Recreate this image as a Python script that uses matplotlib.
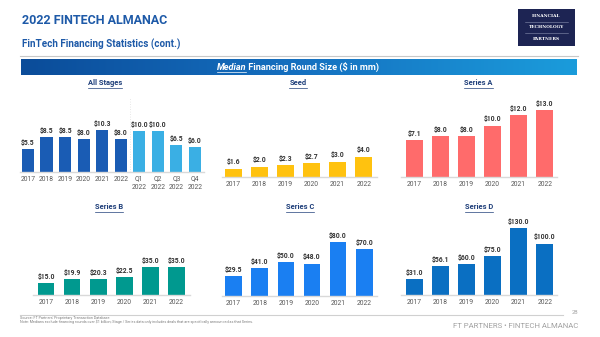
import matplotlib
matplotlib.use("Agg")
import matplotlib.pyplot as plt
import numpy as np
from matplotlib.lines import Line2D
from matplotlib.colors import LinearSegmentedColormap

# ---------------- data ----------------
all_labels = ['2017', '2018', '2019', '2020', '2021', '2022',
              'Q1\n2022', 'Q2\n2022', 'Q3\n2022', 'Q4\n2022']
all_values = [5.5, 8.5, 8.5, 8.0, 10.3, 8.0, 10.0, 10.0, 6.5, 6.0]
years = ['2017', '2018', '2019', '2020', '2021', '2022']
seed_values = [1.6, 2.0, 2.3, 2.7, 3.0, 4.0]
series_a_values = [7.1, 8.0, 8.0, 10.0, 12.0, 13.0]
series_b_values = [15.0, 19.9, 20.3, 22.5, 35.0, 35.0]
series_c_values = [29.5, 41.0, 50.0, 48.0, 80.0, 70.0]
series_d_values = [31.0, 56.1, 60.0, 75.0, 130.0, 100.0]

W, H = 600, 337
plt.rcParams['font.family'] = ['Roboto', 'DejaVu Sans']
fig = plt.figure(figsize=(6, 3.37), dpi=100)
fig.patch.set_facecolor('white')
renderer = fig.canvas.get_renderer()

NAVY = '#1F3F7A'
TITLE_BLUE = '#1E5AA8'


def px_axes(x0, y0, x1, y1):
    return fig.add_axes([x0 / W, 1 - y1 / H, (x1 - x0) / W, (y1 - y0) / H])


def ftext(x, y, s, **kw):
    return fig.text(x / W, 1 - y / H, s, **kw)


def underline(t, color, lw=0.6, gap=1.0):
    bb = t.get_window_extent(renderer=renderer)
    y = bb.y0 - gap
    fig.add_artist(Line2D([bb.x0 / W, bb.x1 / W], [y / H, y / H],
                          transform=fig.transFigure, color=color, lw=lw))


# ---------------- header ----------------
ftext(22, 20, '2022 FINTECH ALMANAC', fontsize=9.0, fontweight='bold',
      color=TITLE_BLUE, va='center', ha='left')
ftext(22, 44, 'FinTech Financing Statistics (cont.)', fontsize=7.1,
      fontweight='bold', color=TITLE_BLUE, va='center', ha='left')

# logo
lax = px_axes(518, 9, 575, 46)
lax.set_xlim(0, 1); lax.set_ylim(0, 1)
lax.set_facecolor('#1D2453')
for s in lax.spines.values():
    s.set_visible(False)
lax.set_xticks([]); lax.set_yticks([])
for yy, word in [(0.80, 'FINANCIAL'), (0.50, 'TECHNOLOGY'), (0.20, 'PARTNERS')]:
    lax.text(0.5, yy, word, color='white', fontsize=3.2, ha='center',
             va='center', family=['DejaVu Serif'], fontweight='bold')
for yy in [0.65, 0.35]:
    lax.plot([0.12, 0.88], [yy, yy], color='#8A90B0', lw=0.4)

# gray rule
fig.add_artist(Line2D([20 / W, 578 / W], [1 - 55.5 / H, 1 - 55.5 / H],
                      transform=fig.transFigure, color='#C8C8C8', lw=0.8))

# banner gradient
bax = px_axes(21, 59, 577, 75)
grad = np.linspace(0, 1, 256).reshape(1, -1)
cmap = LinearSegmentedColormap.from_list('b', ['#0B4C99', '#1570C0', '#1B9CDB'])
bax.imshow(grad, aspect='auto', cmap=cmap, extent=[0, 1, 0, 1])
bax.set_axis_off()

t1 = ftext(0, 67, 'Median', fontsize=6.6, fontweight='bold', style='italic',
           color='white', va='center', ha='left')
t2 = ftext(0, 67, ' Financing Round Size ($ in mm)', fontsize=6.6,
           fontweight='bold', color='white', va='center', ha='left')
w1 = t1.get_window_extent(renderer=renderer).width
w2 = t2.get_window_extent(renderer=renderer).width
start = 298 - (w1 + w2) / 2
t1.set_x(start / W)
t2.set_x((start + w1) / W)
underline(t1, 'white', lw=0.5, gap=0.5)


# ---------------- panels ----------------
def panel(title, tx, ty, x0, x1, baseline, top, c0, spacing, ppu,
          labels, values, colors, bw_px=16.7, tick_pad=3.2):
    ax = px_axes(x0, top, x1, baseline)
    n = len(values)
    xs = np.arange(n)
    ax.bar(xs, values, width=bw_px / spacing, color=colors, zorder=2)
    ax.set_xlim((x0 - c0) / spacing, (x1 - c0) / spacing)
    ax.set_ylim(0, (baseline - top) / ppu)
    for s in ['top', 'left', 'right']:
        ax.spines[s].set_visible(False)
    ax.spines['bottom'].set_color('#D9D9D9')
    ax.spines['bottom'].set_linewidth(1.0)
    ax.set_yticks([])
    ax.set_xticks(xs)
    ax.set_xticklabels(labels, fontsize=4.9, color='#595959', linespacing=1.25)
    ax.tick_params(axis='x', length=0, pad=tick_pad)
    ax.patch.set_alpha(0)
    for x, v in zip(xs, values):
        ax.annotate(f'${v:.1f}', (x, v), xytext=(0, 1.6),
                    textcoords='offset points', ha='center', va='bottom',
                    fontsize=4.9, fontweight='bold', color='#333333')
    t = ftext(tx, ty, title, fontsize=5.4, fontweight='bold', color=NAVY,
              ha='center', va='center')
    underline(t, NAVY, lw=0.5, gap=0.6)
    return ax


all_colors = ['#1A5CB4'] * 6 + ['#3AAFE4'] * 4
ax_all = panel('All Stages', 105, 83, 20, 204, 172, 90, 28, 18.55, 4.1,
               all_labels, all_values, all_colors, bw_px=12.2, tick_pad=2.6)
ax_all.plot([5.5, 5.5], [0, (172 - 98) / 4.1], color='#E0E0E0', lw=0.6,
            ls=(0, (1, 2)), zorder=1)

panel('Seed', 298, 83, 222, 377, 176.7, 92, 233.3, 26.1, 5.0,
      years, seed_values, '#FFC20F')
panel('Series A', 478.5, 83, 401, 557, 176.7, 92, 414.3, 26.1, 5.1,
      years, series_a_values, '#FF6B6B')
panel('Series B', 109, 207, 33, 190, 295, 212, 46, 26.1, 0.8,
      years, series_b_values, '#00998F')
panel('Series C', 300, 207, 222, 377, 295.5, 212, 233.7, 26.1, 0.665,
      years, series_c_values, '#1A7FF2')
panel('Series D', 478.8, 207, 401, 557, 295, 212, 414.3, 26.1, 0.515,
      years, series_d_values, '#0A6FC2')

# ---------------- footer ----------------
fig.add_artist(Line2D([20 / W, 563 / W], [1 - 315 / H, 1 - 315 / H],
                      transform=fig.transFigure, color='#D0D0D0', lw=0.8))
ftext(578, 313, '28', fontsize=4.2, color='#A6A6A6', ha='right', va='center')
ftext(20, 318.5, "Source: FT Partners' Proprietary Transaction Database",
      fontsize=2.7, color='#808080', ha='left', va='center')
ftext(20, 322, 'Note: Medians exclude financing rounds over $1 billion; Stage / '
      'Series data only includes deals that are specifically announced as that Series.',
      fontsize=2.7, color='#808080', ha='left', va='center')
ftext(578, 326, 'FT PARTNERS \u2022 FINTECH ALMANAC', fontsize=5.6,
      color='#A0A0A0', ha='right', va='center')

fig.savefig('out.png', dpi=100, facecolor='white')
